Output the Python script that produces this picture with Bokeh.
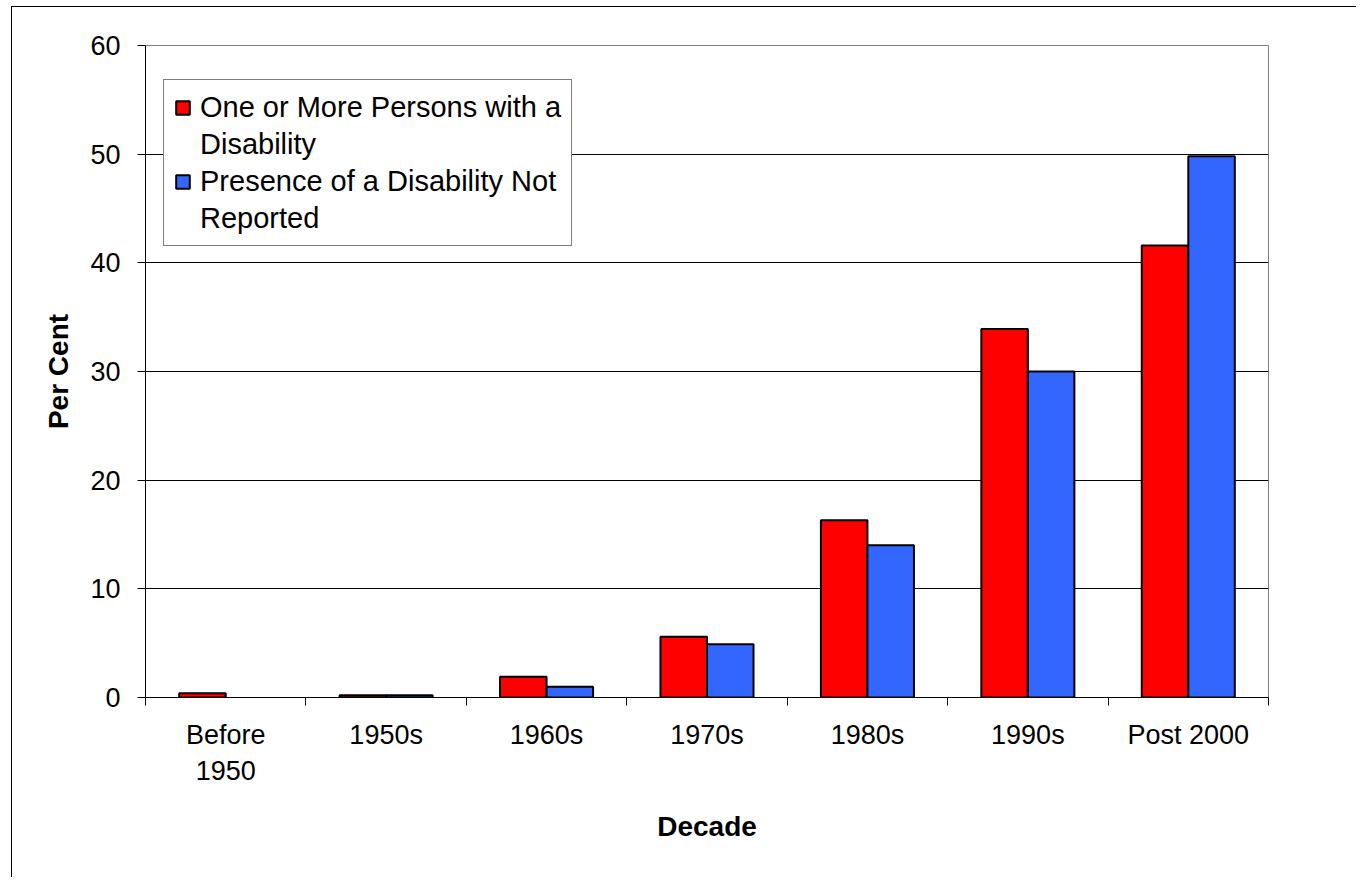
import numpy as np
from bokeh.plotting import figure
from bokeh.models import ColumnDataSource, FixedTicker, Legend, LegendItem, Range1d, InlineStyleSheet
from bokeh.embed import file_html
from bokeh.resources import INLINE

# ---- data ----
categories = ["Before 1950", "1950s", "1960s", "1970s", "1980s", "1990s", "Post 2000"]
tick_labels = ["Before\n1950", "1950s", "1960s", "1970s", "1980s", "1990s", "Post 2000"]
with_disability = [0.4, 0.2, 1.9, 5.6, 16.3, 33.9, 41.6]
not_reported = [0.0, 0.2, 1.0, 4.9, 14.0, 30.0, 49.8]
y_ticks = [0, 10, 20, 30, 40, 50, 60]

series_names = ["One or More Persons with a\nDisability", "Presence of a Disability Not\nReported"]
RED = "#FF0000"
BLUE = "#3366FF"
FONT = "Liberation Sans"

n = len(categories)
xs = np.arange(n) + 0.5
bar_w = 0.29

src = ColumnDataSource(dict(
    x_red=xs - bar_w / 2,
    x_blue=xs + bar_w / 2,
    red=with_disability,
    blue=not_reported,
    red_la=[1.0 if v > 0 else 0.0 for v in with_disability],
    blue_la=[1.0 if v > 0 else 0.0 for v in not_reported],
))

p = figure(width=1356, height=877,
           x_range=Range1d(0, n), y_range=Range1d(y_ticks[0], y_ticks[-1]),
           output_backend="svg", toolbar_location=None,
           min_border_left=145, min_border_right=88,
           min_border_top=45, min_border_bottom=180)

p.background_fill_color = "white"
p.border_fill_color = "white"
p.outline_line_color = "#808080"
p.outline_line_width = 1

# outer chart-area frame (left and top edges visible in the reference)
p.stylesheets = [InlineStyleSheet(css=(
    ":host::after { content: ''; position: absolute; left: 11px; top: 6px; "
    "right: 0; bottom: 0; border-left: 1px solid black; border-top: 1px solid black; "
    "pointer-events: none; z-index: 10; }"
))]

r_red = p.vbar(x="x_red", top="red", bottom=0, width=bar_w, source=src,
               fill_color=RED, line_color="black", line_width=2, line_alpha="red_la")
r_blue = p.vbar(x="x_blue", top="blue", bottom=0, width=bar_w, source=src,
                fill_color=BLUE, line_color="black", line_width=2, line_alpha="blue_la")
blank = p.vbar(x=[], top=[], width=0.1, fill_alpha=0, line_alpha=0)

# y axis
p.yaxis.ticker = FixedTicker(ticks=y_ticks)
p.yaxis.major_tick_in = 0
p.yaxis.major_tick_out = 8
p.yaxis.minor_tick_line_color = None
p.yaxis.major_label_text_font = FONT
p.yaxis.major_label_text_font_size = "27px"
p.yaxis.major_label_text_color = "black"
p.yaxis.major_label_standoff = 17
p.yaxis.axis_label = "Per Cent"
p.yaxis.axis_label_text_font = FONT
p.yaxis.axis_label_text_font_size = "28px"
p.yaxis.axis_label_text_font_style = "bold"
p.yaxis.axis_label_text_color = "black"
p.yaxis.axis_label_standoff = 13
p.yaxis.axis_line_color = "black"
p.yaxis.major_tick_line_color = "black"

# x axis
p.xaxis.ticker = FixedTicker(ticks=list(xs), minor_ticks=list(range(n + 1)))
p.xaxis.major_tick_in = 0
p.xaxis.major_tick_out = 0
p.xaxis.minor_tick_in = 0
p.xaxis.minor_tick_out = 8
p.xaxis.minor_tick_line_color = "black"
p.xaxis.major_label_overrides = {float(x): lbl for x, lbl in zip(xs, tick_labels)}
p.xaxis.major_label_text_font = FONT
p.xaxis.major_label_text_font_size = "27px"
p.xaxis.major_label_text_color = "black"
p.xaxis.major_label_standoff = 14
p.xaxis.axis_label = "Decade"
p.xaxis.axis_label_text_font = FONT
p.xaxis.axis_label_text_font_size = "28px"
p.xaxis.axis_label_text_font_style = "bold"
p.xaxis.axis_label_text_color = "black"
p.xaxis.axis_label_standoff = 22
p.xaxis.axis_line_color = "black"

p.xgrid.visible = False
p.ygrid.ticker = FixedTicker(ticks=y_ticks)
p.ygrid.grid_line_color = "black"
p.ygrid.grid_line_width = 1

# legend (one item per text line)
l1, l2 = series_names[0].split("\n")
l3, l4 = series_names[1].split("\n")
legend = Legend(items=[
    LegendItem(label=l1, renderers=[r_red], index=int(np.argmax(with_disability))),
    LegendItem(label=l2, renderers=[blank]),
    LegendItem(label=l3, renderers=[r_blue], index=int(np.argmax(not_reported))),
    LegendItem(label=l4, renderers=[blank]),
], location=(18, 451))
legend.label_text_font = FONT
legend.label_text_font_size = "29px"
legend.label_text_color = "black"
legend.label_height = 34
legend.glyph_width = 17
legend.glyph_height = 17
legend.label_standoff = 9
legend.spacing = 3
legend.padding = 10
legend.margin = 0
legend.border_line_color = "black"
legend.border_line_width = 1
legend.background_fill_color = "white"
legend.background_fill_alpha = 1
p.add_layout(legend, "center")

open("out.html", "w").write(file_html(p, INLINE))
